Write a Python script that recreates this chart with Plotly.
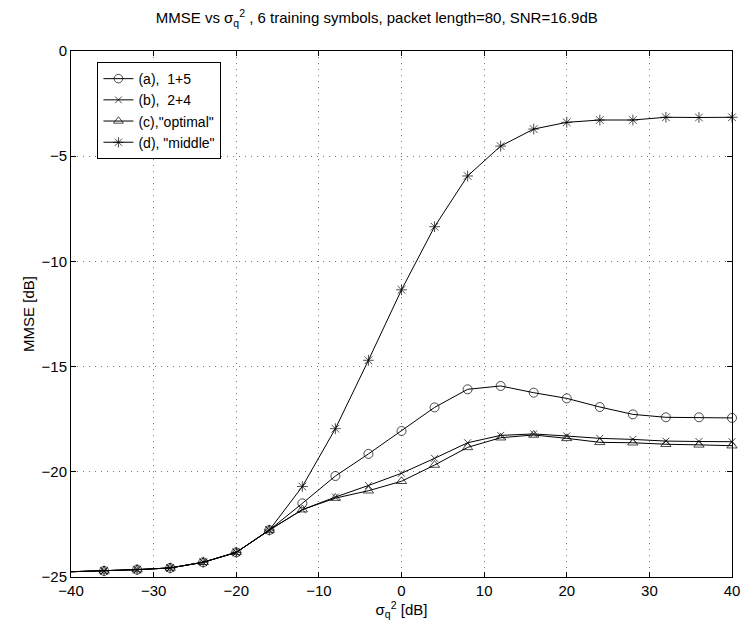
import plotly.graph_objects as go

x = [-40, -36, -32, -28, -24, -20, -16, -12, -8, -4, 0, 4, 8, 12, 16, 20, 24, 28, 32, 36, 40]

mmse_a = [-24.75, -24.71, -24.65, -24.57, -24.3, -23.83, -22.77, -21.5, -20.2, -19.15, -18.06,
          -16.94, -16.08, -15.92, -16.24, -16.51, -16.92, -17.27, -17.41, -17.41, -17.44]
mmse_b = [-24.75, -24.71, -24.65, -24.57, -24.3, -23.83, -22.77, -21.8, -21.2, -20.65, -20.07,
          -19.36, -18.62, -18.27, -18.2, -18.3, -18.41, -18.46, -18.54, -18.56, -18.57]
mmse_c = [-24.75, -24.71, -24.65, -24.57, -24.3, -23.83, -22.77, -21.8, -21.25, -20.9, -20.45,
          -19.68, -18.84, -18.38, -18.25, -18.41, -18.6, -18.62, -18.69, -18.72, -18.76]
mmse_d = [-24.75, -24.71, -24.65, -24.57, -24.3, -23.83, -22.77, -20.7, -17.95, -14.7, -11.35,
          -8.35, -5.94, -4.52, -3.71, -3.39, -3.28, -3.28, -3.15, -3.16, -3.15]

names = ["(a),\u00a0\u00a01+5", "(b),\u00a0\u00a02+4", '(c),"optimal"', '(d), "middle"']
symbols = ["circle-open", "x-thin-open", "triangle-up-open", "asterisk-open"]
sizes = [9, 7, 9, 9]

fig = go.Figure()
for name, y, sym, sz in zip(names, [mmse_a, mmse_b, mmse_c, mmse_d], symbols, sizes):
    # no marker on the first point (sits on the left axis)
    msize = [0] + [sz] * (len(x) - 1)
    fig.add_trace(go.Scatter(
        x=x, y=y, name=name, mode="lines+markers",
        line=dict(color="black", width=1),
        marker=dict(symbol=sym, size=msize, color="black", line=dict(color="black", width=1)),
        cliponaxis=False,
    ))

axis_style = dict(
    showline=True, linecolor="black", linewidth=1, mirror="ticks",
    ticks="inside", ticklen=5, tickcolor="black",
    showgrid=True, gridcolor="#777", griddash="1px,5px", gridwidth=1,
    zeroline=False, tickfont=dict(size=15, color="black"),
)

fig.update_xaxes(range=[-40, 40], dtick=10, **axis_style,
                 title=dict(text="σ<sub>q</sub><sup>2</sup> [dB]", font=dict(size=15, color="black"), standoff=2))
fig.update_yaxes(range=[-25, 0], dtick=5, **axis_style,
                 title=dict(text="MMSE [dB]", font=dict(size=15, color="black"), standoff=3))

# page body adds an 8px margin, so the figure is 8px smaller and shifted
fig.update_layout(
    width=742, height=623,
    margin=dict(l=63, r=10, t=43, b=54),
    plot_bgcolor="white", paper_bgcolor="white",
    font=dict(family="Liberation Sans, Arial, sans-serif", color="black", size=15),
    title=dict(text="MMSE vs σ<sub>q</sub><sup>2</sup> , 6 training symbols, packet length=80, SNR=16.9dB",
               x=0.497, xanchor="center", y=0.992, yanchor="top", font=dict(size=15)),
    legend=dict(x=0.04, y=0.979, xanchor="left", yanchor="top",
                bgcolor="white", bordercolor="black", borderwidth=1,
                font=dict(size=14), tracegroupgap=0, itemwidth=30),
    showlegend=True,
)

fig.write_html("out.html")
